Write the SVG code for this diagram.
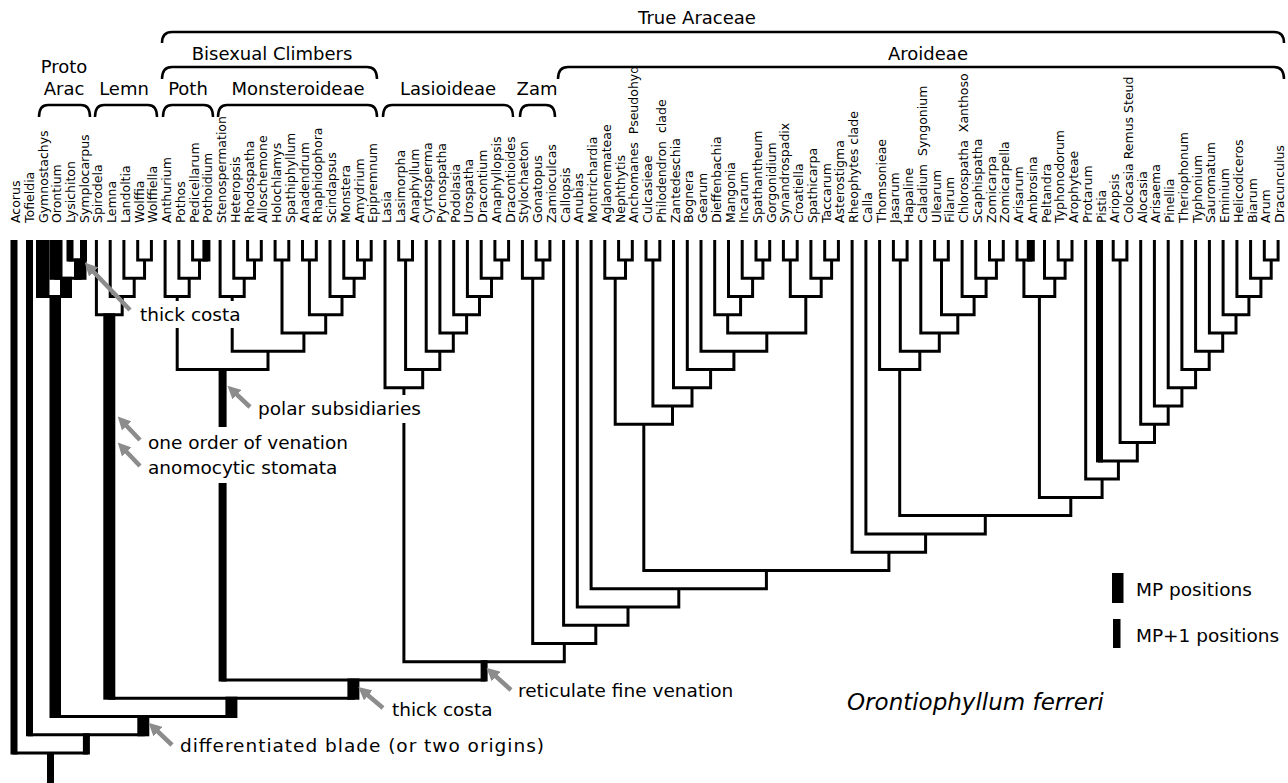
<svg xmlns="http://www.w3.org/2000/svg" width="1288" height="783" viewBox="0 0 1288 783">
<style>
.lab{font-family:"DejaVu Sans","Liberation Sans",sans-serif;font-size:12.5px;fill:#000}
.hdr{font-family:"DejaVu Sans","Liberation Sans",sans-serif;font-size:18px;text-anchor:middle;fill:#000}
.ann{font-family:"DejaVu Sans","Liberation Sans",sans-serif;font-size:18.5px;fill:#000}
.br{fill:none;stroke:#000;stroke-width:2.5}
.tree{fill:none;stroke:#000;stroke-width:3;stroke-linejoin:miter}
.thk rect{fill:#000}
.arr{stroke:#8c8c8c;stroke-width:4.5;fill:none}
.ws{word-spacing:4px}
</style>
<defs>
<marker id="ah" viewBox="0 0 10 10" refX="5" refY="5" markerWidth="13" markerHeight="13" markerUnits="userSpaceOnUse" orient="auto"><path d="M0,0 L10,5 L0,10 z" fill="#8c8c8c"/></marker>
</defs>
<rect width="1288" height="783" fill="#fff"/>

<g id="headers">
<text class="hdr" x="697" y="24">True Araceae</text>
<text class="hdr" x="928" y="60">Aroideae</text>
<text class="hdr" x="272" y="60">Bisexual Climbers</text>
<text class="hdr" x="64" y="73">Proto</text>
<text class="hdr" x="64" y="95">Arac</text>
<text class="hdr" x="124" y="95">Lemn</text>
<text class="hdr" x="188" y="95">Poth</text>
<text class="hdr" x="298" y="95">Monsteroideae</text>
<text class="hdr" x="448" y="95">Lasioideae</text>
<text class="hdr" x="537" y="95">Zam</text>
</g>

<g id="braces">
<path class="br" d="M162 43Q162 32 172 32H1274Q1284 32 1284 43"/>
<path class="br" d="M162 79Q162 67 172 67H367Q377 67 377 79"/>
<path class="br" d="M558 79Q558 67 568 67H1274Q1284 67 1284 79"/>
<path class="br" d="M39 117Q39 105 48 105H81Q90 105 90 117"/>
<path class="br" d="M95 117Q95 105 104 105H148Q157 105 157 117"/>
<path class="br" d="M163 117Q163 105 172 105H204Q213 105 213 117"/>
<path class="br" d="M218 117Q218 105 227 105H368Q377 105 377 117"/>
<path class="br" d="M383 117Q383 105 392 105H504Q513 105 513 117"/>
<path class="br" d="M520 117Q520 105 529 105H546Q555 105 555 117"/>
</g>

<g id="taxa" class="lab">
<g id="t1"><text transform="translate(20 223) rotate(-90)">Acorus</text></g>
<g id="t2"><text transform="translate(33.7 223) rotate(-90)">Tofieldia</text></g>
<g id="t3"><text transform="translate(47.5 223) rotate(-90)">Gymnostachys</text></g>
<g id="t4"><text transform="translate(61.2 223) rotate(-90)">Orontium</text></g>
<g id="t5"><text transform="translate(75 223) rotate(-90)">Lysichiton</text></g>
<g id="t6"><text transform="translate(88.7 223) rotate(-90)">Symplocarpus</text></g>
<g id="t7"><text transform="translate(102.4 223) rotate(-90)">Spirodela</text></g>
<g id="t8"><text transform="translate(116.2 223) rotate(-90)">Lemna</text></g>
<g id="t9"><text transform="translate(129.9 223) rotate(-90)">Landoltia</text></g>
<g id="t10"><text transform="translate(143.7 223) rotate(-90)">Wolffia</text></g>
<g id="t11"><text transform="translate(157.4 223) rotate(-90)">Wolffiella</text></g>
<g id="t12"><text transform="translate(171.1 223) rotate(-90)">Anthurium</text></g>
<g id="t13"><text transform="translate(184.9 223) rotate(-90)">Pothos</text></g>
<g id="t14"><text transform="translate(198.6 223) rotate(-90)">Pedicellarum</text></g>
<g id="t15"><text transform="translate(212.4 223) rotate(-90)">Pothoidium</text></g>
<g id="t16"><text transform="translate(226.1 223) rotate(-90)">Stenospermation</text></g>
<g id="t17"><text transform="translate(239.8 223) rotate(-90)">Heteropsis</text></g>
<g id="t18"><text transform="translate(253.6 223) rotate(-90)">Rhodospatha</text></g>
<g id="t19"><text transform="translate(267.3 223) rotate(-90)">Alloschemone</text></g>
<g id="t20"><text transform="translate(281.1 223) rotate(-90)">Holochlamys</text></g>
<g id="t21"><text transform="translate(294.8 223) rotate(-90)">Spathiphyllum</text></g>
<g id="t22"><text transform="translate(308.5 223) rotate(-90)">Anadendrum</text></g>
<g id="t23"><text transform="translate(322.3 223) rotate(-90)">Rhaphidophora</text></g>
<g id="t24"><text transform="translate(336 223) rotate(-90)">Scindapsus</text></g>
<g id="t25"><text transform="translate(349.8 223) rotate(-90)">Monstera</text></g>
<g id="t26"><text transform="translate(363.5 223) rotate(-90)">Amydrium</text></g>
<g id="t27"><text transform="translate(377.2 223) rotate(-90)">Epipremnum</text></g>
<g id="t28"><text transform="translate(391 223) rotate(-90)">Lasia</text></g>
<g id="t29"><text transform="translate(404.7 223) rotate(-90)">Lasimorpha</text></g>
<g id="t30"><text transform="translate(418.5 223) rotate(-90)">Anaphyllum</text></g>
<g id="t31"><text transform="translate(432.2 223) rotate(-90)">Cyrtosperma</text></g>
<g id="t32"><text transform="translate(445.9 223) rotate(-90)">Pycnospatha</text></g>
<g id="t33"><text transform="translate(459.7 223) rotate(-90)">Podolasia</text></g>
<g id="t34"><text transform="translate(473.4 223) rotate(-90)">Urospatha</text></g>
<g id="t35"><text transform="translate(487.2 223) rotate(-90)">Dracontium</text></g>
<g id="t36"><text transform="translate(500.9 223) rotate(-90)">Anaphyllopsis</text></g>
<g id="t37"><text transform="translate(514.6 223) rotate(-90)">Dracontioides</text></g>
<g id="t38"><text transform="translate(528.4 223) rotate(-90)">Stylochaeton</text></g>
<g id="t39"><text transform="translate(542.1 223) rotate(-90)">Gonatopus</text></g>
<g id="t40"><text transform="translate(555.9 223) rotate(-90)">Zamioculcas</text></g>
<g id="t41"><text transform="translate(569.6 223) rotate(-90)">Callopsis</text></g>
<g id="t42"><text transform="translate(583.3 223) rotate(-90)">Anubias</text></g>
<g id="t43"><text transform="translate(597.1 223) rotate(-90)">Montrichardia</text></g>
<g id="t44"><text transform="translate(610.8 223) rotate(-90)">Aglaonemateae</text></g>
<g id="t45"><text transform="translate(624.6 223) rotate(-90)">Nephthytis</text></g>
<g id="t46"><text class="ws" transform="translate(638.3 223) rotate(-90)">Anchomanes Pseudohyd</text></g>
<g id="t47"><text transform="translate(652 223) rotate(-90)">Culcasieae</text></g>
<g id="t48"><text class="ws" transform="translate(665.8 223) rotate(-90)">Philodendron clade</text></g>
<g id="t49"><text transform="translate(679.5 223) rotate(-90)">Zantedeschia</text></g>
<g id="t50"><text transform="translate(693.3 223) rotate(-90)">Bognera</text></g>
<g id="t51"><text transform="translate(707 223) rotate(-90)">Gearum</text></g>
<g id="t52"><text transform="translate(720.7 223) rotate(-90)">Dieffenbachia</text></g>
<g id="t53"><text transform="translate(734.5 223) rotate(-90)">Mangonia</text></g>
<g id="t54"><text transform="translate(748.2 223) rotate(-90)">Incarum</text></g>
<g id="t55"><text transform="translate(762 223) rotate(-90)">Spathantheum</text></g>
<g id="t56"><text transform="translate(775.7 223) rotate(-90)">Gorgonidium</text></g>
<g id="t57"><text transform="translate(789.4 223) rotate(-90)">Synandrospadix</text></g>
<g id="t58"><text transform="translate(803.2 223) rotate(-90)">Croatiella</text></g>
<g id="t59"><text transform="translate(816.9 223) rotate(-90)">Spathicarpa</text></g>
<g id="t60"><text transform="translate(830.7 223) rotate(-90)">Taccarum</text></g>
<g id="t61"><text transform="translate(844.4 223) rotate(-90)">Asterostigma</text></g>
<g id="t62"><text transform="translate(858.1 223) rotate(-90)">Rheophytes clade</text></g>
<g id="t63"><text transform="translate(871.9 223) rotate(-90)">Calla</text></g>
<g id="t64"><text transform="translate(885.6 223) rotate(-90)">Thomsonieae</text></g>
<g id="t65"><text transform="translate(899.4 223) rotate(-90)">Jasarum</text></g>
<g id="t66"><text transform="translate(913.1 223) rotate(-90)">Hapaline</text></g>
<g id="t67"><text class="ws" transform="translate(926.8 223) rotate(-90)">Caladium Syngonium</text></g>
<g id="t68"><text transform="translate(940.6 223) rotate(-90)">Ulearum</text></g>
<g id="t69"><text transform="translate(954.3 223) rotate(-90)">Filarum</text></g>
<g id="t70"><text class="ws" transform="translate(968.1 223) rotate(-90)">Chlorospatha Xanthoso</text></g>
<g id="t71"><text transform="translate(981.8 223) rotate(-90)">Scaphispatha</text></g>
<g id="t72"><text transform="translate(995.5 223) rotate(-90)">Zomicarpa</text></g>
<g id="t73"><text transform="translate(1009.3 223) rotate(-90)">Zomicarpella</text></g>
<g id="t74"><text transform="translate(1023 223) rotate(-90)">Arisarum</text></g>
<g id="t75"><text transform="translate(1036.8 223) rotate(-90)">Ambrosina</text></g>
<g id="t76"><text transform="translate(1050.5 223) rotate(-90)">Peltandra</text></g>
<g id="t77"><text transform="translate(1064.2 223) rotate(-90)">Typhonodorum</text></g>
<g id="t78"><text transform="translate(1078 223) rotate(-90)">Arophyteae</text></g>
<g id="t79"><text transform="translate(1091.7 223) rotate(-90)">Protarum</text></g>
<g id="t80"><text transform="translate(1105.5 223) rotate(-90)">Pistia</text></g>
<g id="t81"><text transform="translate(1119.2 223) rotate(-90)">Ariopsis</text></g>
<g id="t82"><text transform="translate(1132.9 223) rotate(-90)">Colocasia Remus Steud</text></g>
<g id="t83"><text transform="translate(1146.7 223) rotate(-90)">Alocasia</text></g>
<g id="t84"><text transform="translate(1160.4 223) rotate(-90)">Arisaema</text></g>
<g id="t85"><text transform="translate(1174.2 223) rotate(-90)">Pinellia</text></g>
<g id="t86"><text transform="translate(1187.9 223) rotate(-90)">Theriophonum</text></g>
<g id="t87"><text transform="translate(1201.6 223) rotate(-90)">Typhonium</text></g>
<g id="t88"><text transform="translate(1215.4 223) rotate(-90)">Sauromatum</text></g>
<g id="t89"><text transform="translate(1229.1 223) rotate(-90)">Eminium</text></g>
<g id="t90"><text transform="translate(1242.9 223) rotate(-90)">Helicodiceros</text></g>
<g id="t91"><text transform="translate(1256.6 223) rotate(-90)">Biarum</text></g>
<g id="t92"><text transform="translate(1270.3 223) rotate(-90)">Arum</text></g>
<g id="t93"><text transform="translate(1284.1 223) rotate(-90)">Dracunculus</text></g>
</g>

<g id="connectors">
<path class="tree" d="M70 240V260H83.5V240M56 240V278.3H80.25V260M42.75 240V296.5H66V278.3
M137.7 240V260H151.4V240M123.9 240V278.3H144.55V260M110.2 240V296.5H134.2V278.3M96.4 240V314.8H122.2V296.5
M192.6 240V260H206.4V240M178.9 240V278.3H199.5V260M165.1 240V296.5H189.2V278.3
M247.6 240V260H261.3V240M233.8 240V278.3H254.5V260M220.1 240V296.5H244.2V278.3
M275.1 240V260H288.8V240M302.5 240V260H316.3V240M357.5 240V260H371.2V240M343.8 240V278.3H364.4V260M330 240V296.5H354.1V278.3
M309.4 260V314.8H342V296.5M282 260V333H325.7V314.8
M232.2 296.5V301M232.2 328V351.3H303.9V333
M177.2 296.5V301M177.2 328V369.6H268V351.3
M398.7 240V260H412.5V240M494.9 240V260H508.6V240M481.2 240V278.3H501.8V260M467.4 240V296.5H491.5V278.3
M453.7 240V314.8H479.5V296.5M439.9 240V333H466.6V314.8M426.2 240V351.3H453.3V333M405.6 260V369.6H439.8V351.3M385 240V387.8H422.7V369.6
M536.1 240V260H549.9V240M522.4 240V278.3H543V260
M618.6 240V260H632.3V240M604.8 240V278.3H625.5V260M646 240V260H659.8V240
M756 240V260H769.7V240M742.2 240V278.3H762.9V260M728.5 240V296.5H752.6V278.3M714.7 240V314.8H740.6V296.5
M783.4 240V260H797.2V240M824.7 240V260H838.4V240M810.9 240V278.3H831.6V260M790.3 260V296.5H821.2V278.3
M727.7 314.8V333H805.8V296.5M701 240V351.3H766.8V333M687.3 240V369.6H733.9V351.3M673.5 240V387.8H710.6V369.6
M652.9 260V406.1H692V387.8M615.2 278.3V424.3H672.5V406.1
M893.4 240V260H907.1V240M934.6 240V260H948.3V240M989.5 240V260H1003.3V240M975.8 240V278.3H996.4V260
M962.1 240V296.5H986.1V278.3M941.5 260V314.8H974.1V296.5M920.8 240V333H957.8V314.8M900.3 260V351.3H939.3V333M879.6 240V369.6H919.8V351.3
M1017 240V260H1030.8V240M1058.2 240V260H1072V240M1044.5 240V278.3H1065.1V260M1023.9 260V296.5H1054.8V278.3
M1264.3 240V260H1278.1V240M1250.6 240V278.3H1271.2V260M1236.9 240V296.5H1260.9V278.3M1223.1 240V314.8H1248.9V296.5
M1209.4 240V333H1236V314.8M1195.6 240V351.3H1222.7V333M1181.9 240V369.6H1209.2V351.3M1168.2 240V387.8H1195.6V369.6
M1154.4 240V406.1H1181.9V387.8M1140.7 240V424.3H1168.2V406.1M1113.2 240V260H1126.9V240M1120.1 260V442.6H1154.5V424.3
M1099.5 240V460.9H1137.3V442.6M1085.7 240V479.1H1118.4V460.9M1039.4 296.5V497.4H1102.1V479.1
M899.7 369.6V515.6H1070.8V497.4M865.9 240V533.9H985.3V515.6M852.1 240V552.2H925.6V533.9
M643.8 424.3V570.4H888.9V552.2M591.1 240V588.7H766.4V570.4M577.3 240V606.9H678.8V588.7M563.6 240V625.2H628V606.9
M532.7 278.3V643.5H595.8V625.2
M403.9 387.8V395M403.9 423V661.7H564.3V643.5
M222.6 369.6V427M222.6 483V680H484.1V661.7
M109.3 314.8V698.2H353.4V680M55.25 296.5V716.5H231.4V698.2M29.5 240V734.8H143.3V716.5M14 240V753H86.4V734.8M50.2 753V783"/>
<g class="thk">
<rect x="10.5" y="240" width="7" height="514.5"/>
<rect x="26" y="240" width="7" height="496.3"/>
<rect x="82.9" y="733.3" width="7" height="21.2"/>
<rect x="137.3" y="715" width="12" height="21.3"/>
<rect x="49.5" y="295" width="11.5" height="423"/>
<rect x="225.4" y="696.7" width="12" height="21.3"/>
<rect x="103.3" y="313.3" width="12" height="386.4"/>
<rect x="347.4" y="678.5" width="12" height="21.2"/>
<rect x="218.6" y="368.1" width="8" height="58.9"/>
<rect x="218.6" y="483" width="8" height="198.5"/>
<rect x="480.6" y="660.2" width="7" height="21.3"/>
<rect x="1096" y="240" width="7" height="222.4"/>
<rect x="1026.8" y="240" width="8" height="21.5"/>
<rect x="202.4" y="240" width="8" height="21.5"/>
<rect x="36" y="240" width="13.5" height="58"/>
<rect x="49.5" y="240" width="13" height="39.8"/>
<rect x="66.5" y="240" width="7" height="21.5"/>
<rect x="80" y="240" width="7" height="21.5"/>
<rect x="74" y="258.5" width="12.5" height="21.3"/>
<rect x="60" y="276.8" width="12" height="21.2"/>
<rect x="47" y="753" width="7" height="30"/>
</g>
</g>

<g id="annotations">
<path class="arr" d="M130 310L89.2 267.3" marker-end="url(#ah)"/>
<path class="arr" d="M250 407L232.2 390.2" marker-end="url(#ah)"/>
<path class="arr" d="M140 440L122.2 421.2" marker-end="url(#ah)"/>
<path class="arr" d="M140 466L122.2 447.2" marker-end="url(#ah)"/>
<path class="arr" d="M383 708L363.2 691.2" marker-end="url(#ah)"/>
<path class="arr" d="M172 745L153.2 727.2" marker-end="url(#ah)"/>
<path class="arr" d="M511 690L491.2 672.2" marker-end="url(#ah)"/>
<text class="ann" x="140" y="321">thick costa</text>
<text class="ann" x="258" y="415">polar subsidiaries</text>
<text class="ann" x="148" y="449">one order of venation</text>
<text class="ann" x="148" y="474">anomocytic stomata</text>
<text class="ann" x="392" y="716">thick costa</text>
<text class="ann" x="518" y="697">reticulate fine venation</text>
<text class="ann" x="180" y="752" textLength="364" lengthAdjust="spacing">differentiated blade (or two origins)</text>
</g>

<g id="legend">
<rect x="1112" y="573" width="11.5" height="30" fill="#000"/>
<text class="ann" x="1136" y="596">MP positions</text>
<rect x="1113" y="619" width="7.5" height="29" fill="#000"/>
<text class="ann" x="1136" y="642">MP+1 positions</text>
</g>

<g id="title">
<text x="847" y="710" font-family="DejaVu Sans, Liberation Sans, sans-serif" font-style="italic" font-size="23">Orontiophyllum ferreri</text>
</g>
</svg>
